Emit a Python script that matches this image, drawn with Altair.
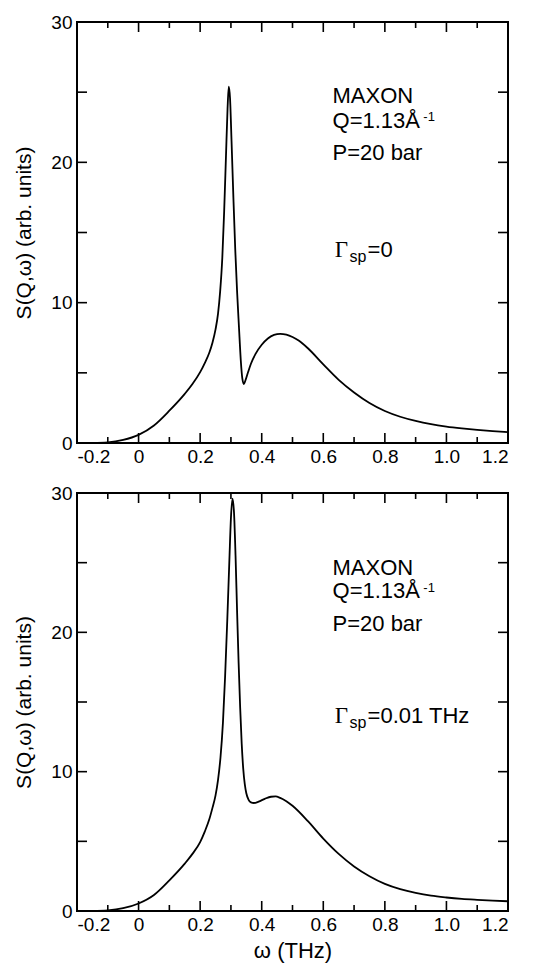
import altair as alt
import pandas as pd

# ---- data ----
x_top = [-0.2, -0.15, -0.1, -0.05, 0.0, 0.05, 0.1, 0.15, 0.175, 0.2, 0.215, 0.23, 0.24,
         0.25, 0.258, 0.265, 0.272, 0.278, 0.284, 0.289, 0.293, 0.297, 0.302, 0.308,
         0.314, 0.32, 0.326, 0.332, 0.337, 0.342, 0.347, 0.355, 0.365, 0.38, 0.40,
         0.42, 0.44, 0.46, 0.48, 0.50, 0.52, 0.55, 0.6, 0.65, 0.7, 0.75, 0.8, 0.85,
         0.9, 0.95, 1.0, 1.05, 1.1, 1.15, 1.2]
y_top = [0.0, 0.01, 0.05, 0.22, 0.58, 1.25, 2.3, 3.5, 4.2, 5.05, 5.7, 6.45, 7.15,
         8.1, 9.2, 10.8, 13.2, 16.5, 20.5, 23.8, 25.4, 24.6, 21.5, 17.5,
         13.8, 10.8, 8.3, 5.9, 4.6, 4.2, 4.45, 5.0, 5.65, 6.35, 7.0,
         7.45, 7.7, 7.78, 7.72, 7.55, 7.3, 6.75, 5.6, 4.5, 3.6, 2.85, 2.28, 1.87,
         1.57, 1.34, 1.17, 1.04, 0.93, 0.84, 0.77]

x_bot = [-0.2, -0.15, -0.1, -0.05, 0.0, 0.05, 0.1, 0.15, 0.175, 0.2, 0.215, 0.23, 0.24,
         0.25, 0.258, 0.266, 0.274, 0.281, 0.288, 0.295, 0.3, 0.305, 0.31, 0.315, 0.32,
         0.325, 0.33, 0.335, 0.34, 0.345, 0.35, 0.357, 0.365, 0.375, 0.39, 0.41, 0.43,
         0.445, 0.46, 0.48, 0.5, 0.55, 0.6, 0.65, 0.7, 0.75, 0.8, 0.85, 0.9, 0.95, 1.0,
         1.05, 1.1, 1.15, 1.2]
y_bot = [0.0, 0.01, 0.05, 0.2, 0.54, 1.15, 2.2, 3.4, 4.1, 4.95, 5.7, 6.6, 7.4,
         8.3, 9.4, 11.0, 13.5, 16.8, 20.8, 25.2, 28.2, 29.6, 28.6, 25.5, 21.5,
         17.8, 14.6, 12.0, 10.2, 9.1, 8.45, 8.0, 7.8, 7.75, 7.85, 8.05, 8.2,
         8.22, 8.12, 7.88, 7.55, 6.45, 5.2, 4.1, 3.2, 2.5, 1.95, 1.57, 1.3, 1.1, 0.97,
         0.87, 0.8, 0.74, 0.7]

x_major = [-0.2, 0.0, 0.2, 0.4, 0.6, 0.8, 1.0, 1.2]
x_major_ticks = [0.0, 0.2, 0.4, 0.6, 0.8, 1.0]
x_minor_ticks = [-0.1, 0.1, 0.3, 0.5, 0.7, 0.9, 1.1]
x_edges = [-0.2, 1.2]
y_major = [0, 10, 20, 30]
y_ticks = [5, 10, 15, 20, 25]
y_edges = [0, 30]

# annotation text (data coordinates)
ann_text_top = ["MAXON", "Q=1.13Å", "-1", "P=20 bar", "sp", "=0"]
ann_x_top = [0.630, 0.630, 0.925, 0.630, 0.685, 0.744]
ann_y_top = [24.2, 22.46, 22.96, 20.2, 12.89, 13.24]
ann_size_top = [22, 22, 13, 22, 16, 22]
gamma_top = (0.637, 13.24)

ann_text_bot = ["MAXON", "Q=1.13Å", "-1", "P=20 bar", "sp", "=0.01 THz"]
ann_x_bot = [0.630, 0.630, 0.925, 0.630, 0.685, 0.744]
ann_y_bot = [24.14, 22.43, 22.93, 20.07, 13.14, 13.5]
ann_size_bot = [22, 22, 13, 22, 16, 22]
gamma_bot = (0.637, 13.5)

W = 431
H_TOP = 421
H_BOT = 418

LABEL_EXPR = ("datum.value == 0 ? '0' : (datum.value < 0 ? '-' + format(-datum.value, '.1f')"
              " : format(datum.value, '.1f'))")


def panel(xs, ys, H, texts, axs, ays, sizes, gamma, show_xtitle, pid):
    xscale = alt.Scale(domain=[-0.2, 1.2], nice=False, zero=False)
    yscale = alt.Scale(domain=[0, 30], nice=False, zero=False)
    xaxis_kw = dict(values=x_major, labelExpr=LABEL_EXPR, ticks=False, domain=False, grid=False,
                    labelPadding=4, labelFontSize=19, labelColor="black")
    if show_xtitle:
        xaxis_kw.update(title="ω (THz)", titleFontSize=22, titleFontWeight="normal",
                        titleColor="black", titlePadding=6)
    else:
        xaxis_kw.update(title="")
    yaxis_kw = dict(values=y_major, ticks=False, domain=False, grid=False,
                    labelPadding=5, labelFontSize=19, labelColor="black",
                    title="S(Q,ω) (arb. units)", titleFontSize=21, titleFontWeight="normal",
                    titleColor="black", titlePadding=16)

    line = alt.Chart(pd.DataFrame({"x": xs, "y": ys})).mark_line(
        color="black", strokeWidth=1.8, interpolate="monotone"
    ).encode(
        x=alt.X("x:Q", scale=xscale, axis=alt.Axis(**xaxis_kw)),
        y=alt.Y("y:Q", scale=yscale, axis=alt.Axis(**yaxis_kw)),
    )

    def xt(vals, y0, y1, tag, sw=1.6):
        return alt.Chart(pd.DataFrame({"x": vals, "y0": [y0] * len(vals),
                                       "k": [f"{pid}{tag}"] * len(vals)})).mark_rule(
            color="black", strokeWidth=sw).encode(
            x=alt.X("x:Q", scale=xscale), y=alt.value(y0), y2=alt.value(y1))

    def yt(vals, x0, x1, tag, sw=1.6):
        return alt.Chart(pd.DataFrame({"y": vals, "x0": [x0] * len(vals),
                                       "k": [f"{pid}{tag}"] * len(vals)})).mark_rule(
            color="black", strokeWidth=sw).encode(
            y=alt.Y("y:Q", scale=yscale), x=alt.value(x0), x2=alt.value(x1))

    ticks = [
        xt(x_major_ticks, H, H - 10, "a"), xt(x_minor_ticks, H, H - 6, "b"),
        xt(x_major_ticks, 0, 10, "c"), xt(x_minor_ticks, 0, 6, "d"),
        yt(y_ticks, 0, 10, "e"), yt(y_ticks, W, W - 10, "f"),
        xt(x_edges, 0, H, "g", 2), yt(y_edges, 0, W, "h", 2),
    ]

    frame = alt.Chart(pd.DataFrame({"x": [-0.2], "x2": [1.2], "y": [0], "y2": [30]})).mark_rect(
        fill=None, stroke="black", strokeWidth=2, filled=False
    ).encode(x=alt.X("x:Q", scale=xscale), x2="x2:Q", y=alt.Y("y:Q", scale=yscale), y2="y2:Q")

    ann_df = pd.DataFrame({"text": texts, "x": axs, "y": ays, "size": sizes})
    ann = alt.Chart(ann_df).mark_text(
        align="left", baseline="alphabetic", color="black", font="Liberation Sans"
    ).encode(
        x=alt.X("x:Q", scale=xscale), y=alt.Y("y:Q", scale=yscale),
        text="text:N",
        size=alt.Size("size:Q", scale=None),
    )
    g = alt.Chart(pd.DataFrame({"text": ["Γ"], "x": [gamma[0]], "y": [gamma[1]]})).mark_text(
        align="left", baseline="alphabetic", color="black", font="Liberation Serif", fontSize=23
    ).encode(x=alt.X("x:Q", scale=xscale), y=alt.Y("y:Q", scale=yscale), text="text:N")
    return alt.layer(line, frame, *ticks, ann, g).properties(width=W, height=H)


top = panel(x_top, y_top, H_TOP, ann_text_top, ann_x_top, ann_y_top, ann_size_top, gamma_top,
            False, "t")
bot = panel(x_bot, y_bot, H_BOT, ann_text_bot, ann_x_bot, ann_y_bot, ann_size_bot, gamma_bot,
            True, "b")

chart = alt.vconcat(top, bot, spacing=18).configure(
    font="Liberation Sans", view=alt.ViewConfig(stroke=None)
)

chart.save("out.html", embed_options={"renderer": "svg", "actions": False})
